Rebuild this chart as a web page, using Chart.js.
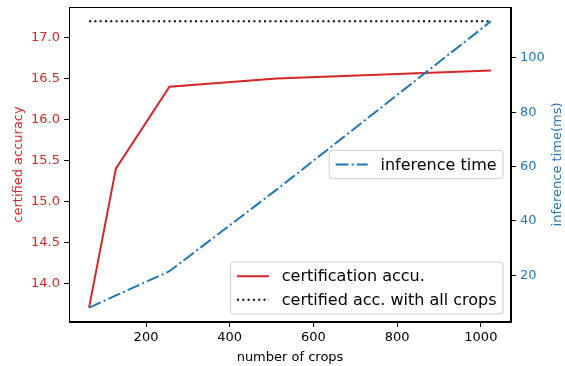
<!DOCTYPE html>
<html><head><meta charset="utf-8">
<script src="https://cdn.jsdelivr.net/npm/chart.js@4/dist/chart.umd.min.js"></script>
<style>html,body{margin:0;padding:0;background:#fff;} #wrap{width:565px;height:366px;position:relative;}</style>
</head><body><div id="wrap"><canvas id="c" width="565" height="366"></canvas></div>
<script>
// ---- data ----
const crops = [64, 128, 256, 512, 1024];
const certAccuracy = [13.7, 15.4, 16.4, 16.5, 16.6];
const allCropsAccuracy = [17.2, 17.2, 17.2, 17.2, 17.2];
const inferenceTime = [8.1, 12.6, 21.5, 51.5, 113.4];
const xTicks = [200, 400, 600, 800, 1000];
const accTicks = [14.0, 14.5, 15.0, 15.5, 16.0, 16.5, 17.0];
const timeTicks = [20, 40, 60, 80, 100];

const RED = '#d62728', BLUE = '#1f77b4', BLACK = '#000000';
const FONT = "'DejaVu Sans', 'Liberation Sans', sans-serif";

function withMargin(arrs) {
  const all = [].concat(...arrs);
  const lo = Math.min(...all), hi = Math.max(...all);
  const m = (hi - lo) * 0.05;
  return [lo - m, hi + m];
}
const [xMin, xMax] = withMargin([crops]);
const [aMin, aMax] = withMargin([certAccuracy, allCropsAccuracy]);
const [tMin, tMax] = withMargin([inferenceTime]);

const pts = (ys) => crops.map((x, i) => ({x: x, y: ys[i]}));

const frameAndLegends = {
  id: 'frameAndLegends',
  afterDraw(chart) {
    const ctx = chart.ctx, a = chart.chartArea;
    ctx.save();
    // full frame
    ctx.strokeStyle = BLACK; ctx.lineWidth = 1;
    ctx.strokeRect(Math.round(a.left) + 0.5, Math.round(a.top) + 0.5,
                   Math.round(a.right - a.left) - 1, Math.round(a.bottom - a.top) - 1);
    // right axis title (reads bottom-to-top like matplotlib)
    ctx.save();
    ctx.translate(558, (a.top + a.bottom) / 2);
    ctx.rotate(-Math.PI / 2);
    ctx.font = '13px ' + FONT;
    ctx.fillStyle = BLUE; ctx.textAlign = 'center'; ctx.textBaseline = 'middle';
    ctx.fillText('inference time(ms)', 0, 0);
    ctx.restore();

    const ds = chart.data.datasets;
    function legend(items, anchor) {
      const fs = 16, pad = 6.4, rowH = 15.6, gap = 8, hl = 32, htp = 12.8;
      ctx.font = fs + 'px ' + FONT;
      const tw = Math.max(...items.map(d => ctx.measureText(d.label).width));
      const w = pad + hl + htp + tw + pad;
      const h = pad * 2 + items.length * rowH + (items.length - 1) * gap;
      const x = a.right - 8 - w;
      const y = anchor === 'lower' ? a.bottom - 8 - h : (a.top + a.bottom) / 2 - h / 2;
      ctx.save();
      ctx.beginPath();
      ctx.roundRect(x, y, w, h, 3);
      ctx.fillStyle = 'rgba(255,255,255,0.8)';
      ctx.fill();
      ctx.strokeStyle = '#cccccc'; ctx.lineWidth = 1;
      ctx.stroke();
      items.forEach((d, i) => {
        const cy = y + pad + i * (rowH + gap) + rowH / 2;
        ctx.beginPath();
        ctx.setLineDash(d.borderDash || []);
        ctx.strokeStyle = d.borderColor; ctx.lineWidth = d.borderWidth;
        ctx.lineCap = 'butt';
        ctx.moveTo(x + pad, cy); ctx.lineTo(x + pad + hl, cy);
        ctx.stroke();
        ctx.setLineDash([]);
        ctx.fillStyle = BLACK; ctx.textAlign = 'left'; ctx.textBaseline = 'middle';
        ctx.fillText(d.label, x + pad + hl + htp, cy + 1);
      });
      ctx.restore();
    }
    legend([ds[0], ds[1]], 'lower');
    legend([ds[2]], 'center');
    ctx.restore();
  }
};

const tickFont = {family: FONT, size: 13};

new Chart(document.getElementById('c'), {
  type: 'line',
  data: {
    datasets: [
      {label: 'certification accu.', data: pts(certAccuracy), yAxisID: 'y',
       borderColor: RED, borderWidth: 2, pointRadius: 0, tension: 0, order: 3},
      {label: 'certified acc. with all crops', data: pts(allCropsAccuracy), yAxisID: 'y',
       borderColor: BLACK, borderWidth: 2, borderDash: [2, 3.3], pointRadius: 0, tension: 0, order: 2},
      {label: 'inference time', data: pts(inferenceTime), yAxisID: 'y2',
       borderColor: BLUE, borderWidth: 2, borderDash: [12.8, 3.2, 2, 3.2], pointRadius: 0, tension: 0, order: 1}
    ]
  },
  options: {
    responsive: false, animation: false,
    layout: {padding: {top: 7, left: 0, right: 0, bottom: 0}},
    plugins: {legend: {display: false}, tooltip: {enabled: false}},
    scales: {
      x: {
        type: 'linear', min: xMin, max: xMax,
        afterBuildTicks: s => { s.ticks = xTicks.map(v => ({value: v})); },
        afterFit: s => { s.height = 44; s.paddingLeft = 0; s.paddingRight = 0; },
        ticks: {font: tickFont, color: BLACK, padding: 3, maxRotation: 0,
                callback: v => String(v)},
        grid: {drawOnChartArea: false, drawTicks: true, tickLength: 5, tickColor: BLACK, tickWidth: 1},
        border: {display: true, color: BLACK, width: 1},
        title: {display: true, text: 'number of crops', font: tickFont, color: BLACK,
                padding: {top: 0, bottom: 1}}
      },
      y: {
        type: 'linear', position: 'left', min: aMin, max: aMax,
        afterBuildTicks: s => { s.ticks = accTicks.map(v => ({value: v})); },
        afterFit: s => { s.width = 69; s.paddingTop = 0; s.paddingBottom = 0; },
        ticks: {font: tickFont, color: RED, padding: 4, callback: v => Number(v).toFixed(1)},
        grid: {drawOnChartArea: false, drawTicks: true, tickLength: 5, tickColor: BLACK, tickWidth: 1},
        border: {display: true, color: BLACK, width: 1},
        title: {display: true, text: 'certified accuracy', font: tickFont, color: RED,
                padding: {top: 10.5, bottom: 0}}
      },
      y2: {
        type: 'linear', position: 'right', min: tMin, max: tMax,
        afterBuildTicks: s => { s.ticks = timeTicks.map(v => ({value: v})); },
        afterFit: s => { s.width = 54; s.paddingTop = 0; s.paddingBottom = 0; },
        ticks: {font: tickFont, color: BLUE, padding: 4, callback: v => String(v)},
        grid: {drawOnChartArea: false, drawTicks: true, tickLength: 5, tickColor: BLACK, tickWidth: 1},
        border: {display: true, color: BLACK, width: 1},
        title: {display: false}
      }
    }
  },
  plugins: [frameAndLegends]
});
</script>
</body></html>
